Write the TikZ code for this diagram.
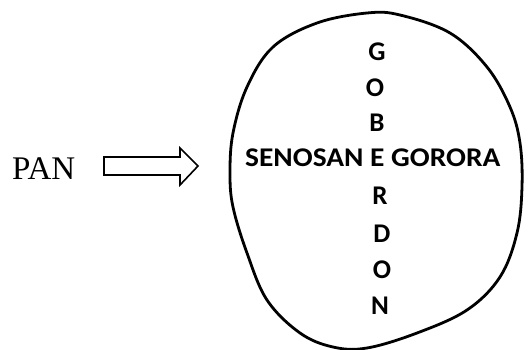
\documentclass[tikz,border=0pt]{standalone}
\usepackage{fontspec}
\setmainfont{Liberation Serif}
\newfontfamily\carlitofont{Carlito}
\begin{document}
\begin{tikzpicture}[x=1pt,y=-1pt,
  letter/.style={font=\carlitofont\bfseries\fontsize{27}{27}\selectfont, inner sep=0pt, anchor=center},
  blob/.style={line width=2.8pt},
  blockarrow/.style={draw, line width=1.6pt, fill=white}]
\useasboundingbox (0,0) rectangle (528,349);
\node[font=\fontsize{33}{33}\selectfont, inner sep=0pt, anchor=base west] (pan) at (12,179) {PAN};
\draw[blockarrow] (104,157) -- (180,157) -- (180,148) -- (198,166) -- (180,185) -- (180,175) -- (104,175) -- cycle;
\draw[blob] plot[smooth cycle, tension=0.6] coordinates {
 (367,13) (400,15) (450,33) (487,67) (510,107) (520,143) (522,187) (517,233) (500,277) (467,310) (417,333) (367,348) (333,347) (300,333) (267,300) (247,253) (233,207) (230,173) (233,133) (247,87) (273,47) (317,23)};
\node[letter, anchor=base west] (row) at (245,166) {\scalebox{1.09}[1]{SENOSAN E GORORA}};
\node[letter] (g1) at (377,52) {G};
\node[letter] (o1) at (375,88) {O};
\node[letter] (b1) at (377,123) {B};
\node[letter] (r1) at (380,196) {R};
\node[letter] (d1) at (382,234) {D};
\node[letter] (o2) at (382,270) {O};
\node[letter] (n1) at (380,306) {N};
\end{tikzpicture}
\end{document}
